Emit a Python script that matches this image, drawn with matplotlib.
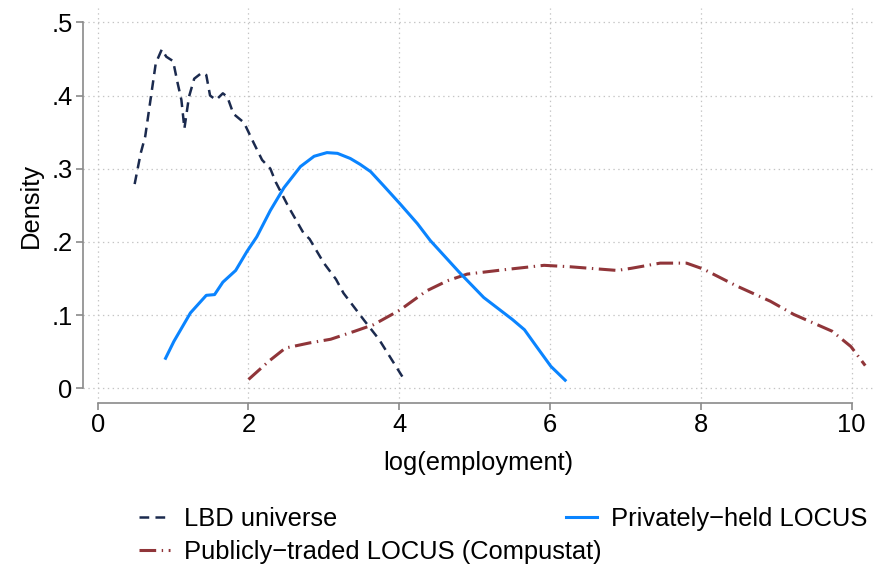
import matplotlib
matplotlib.use("Agg")
from matplotlib import pyplot as plt

plt.rcParams['font.family'] = ['Liberation Sans', 'DejaVu Sans']
plt.rcParams['font.size'] = 18.4
plt.rcParams['lines.scale_dashes'] = False

# LBD universe (kernel density)
lbd_x = [0.49, 0.57, 0.63, 0.70, 0.77, 0.85, 0.91, 1.00, 1.06, 1.11, 1.15, 1.21, 1.28,
         1.38, 1.44, 1.49, 1.57, 1.66, 1.72, 1.80, 1.94, 2.07, 2.18, 2.29, 2.36, 2.53,
         2.73, 2.81, 3.00, 3.16, 3.26, 3.54, 3.73, 4.04]
lbd_y = [0.279, 0.321, 0.344, 0.394, 0.444, 0.463, 0.453, 0.447, 0.417, 0.394, 0.355,
         0.398, 0.423, 0.431, 0.428, 0.400, 0.394, 0.403, 0.398, 0.375, 0.363, 0.335,
         0.312, 0.300, 0.282, 0.248, 0.212, 0.204, 0.171, 0.149, 0.130, 0.092, 0.067, 0.016]

# Privately-held LOCUS
priv_x = [0.90, 1.01, 1.23, 1.44, 1.55, 1.66, 1.83, 1.98, 2.11, 2.29, 2.47, 2.69, 2.87,
          3.04, 3.18, 3.35, 3.48, 3.62, 3.79, 4.01, 4.24, 4.41, 4.80, 5.12, 5.50, 5.66,
          5.82, 6.01, 6.20]
priv_y = [0.041, 0.064, 0.103, 0.127, 0.128, 0.145, 0.161, 0.187, 0.207, 0.243, 0.274,
          0.303, 0.317, 0.322, 0.321, 0.314, 0.306, 0.296, 0.277, 0.252, 0.225, 0.202,
          0.158, 0.124, 0.094, 0.080, 0.057, 0.030, 0.011]

# Publicly-traded LOCUS (Compustat)
pub_x = [2.00, 2.27, 2.49, 2.81, 3.09, 3.41, 3.66, 4.01, 4.36, 4.64, 4.90, 5.39, 5.92,
         6.27, 6.89, 7.08, 7.46, 7.81, 8.03, 8.47, 8.92, 9.23, 9.74, 9.99, 10.18]
pub_y = [0.012, 0.037, 0.055, 0.062, 0.067, 0.078, 0.087, 0.107, 0.133, 0.147, 0.156,
         0.162, 0.168, 0.166, 0.161, 0.164, 0.171, 0.171, 0.163, 0.140, 0.119, 0.101,
         0.078, 0.057, 0.031]

W, H = 879, 565
fig = plt.figure(figsize=(W / 100, H / 100), dpi=100)
ax = fig.add_axes([83 / W, 1 - 402.7 / H, 791.3 / W, 395 / H])

l1, = ax.plot(lbd_x, lbd_y, color='#1b2a4e', lw=1.8, dashes=(7, 4.5))
l2, = ax.plot(pub_x, pub_y, color='#903539', lw=2.2, dashes=(12, 4, 1, 4))
l3, = ax.plot(priv_x, priv_y, color='#0a84ff', lw=2.2)

ax.set_xlim(-0.195, 10.3)
ax.set_ylim(-0.0197, 0.52)
ax.set_xticks([0, 2, 4, 6, 8, 10])
ax.set_yticks([0, 0.1, 0.2, 0.3, 0.4, 0.5])
ax.set_yticklabels(['0', '.1', '.2', '.3', '.4', '.5'])
ax.grid(True, color='#c4c4c4', lw=0.9, dashes=(1, 2.5))
ax.set_axisbelow(True)

for s in ['top', 'right']:
    ax.spines[s].set_visible(False)
ax.spines['left'].set_bounds(0, 0.5)
ax.spines['bottom'].set_bounds(0, 10)
for s in ['left', 'bottom']:
    ax.spines[s].set_color('#8a8a8a')
    ax.spines[s].set_linewidth(1.2)
ax.tick_params(length=5, width=1.2, color='#8a8a8a', pad=2.5)

ax.set_xlabel('log(employment)', labelpad=10)
ax.set_ylabel('Density', labelpad=6)

leg1 = fig.legend([l1, l2], ['LBD universe', 'Publicly\u2212traded LOCUS (Compustat)'],
                  loc='upper left', bbox_to_anchor=(139 / W, 1 - 507 / H), frameon=False,
                  borderpad=0, borderaxespad=0, handlelength=1.2, handletextpad=0.55,
                  labelspacing=0.35)
fig.legend([l3], ['Privately\u2212held LOCUS'],
           loc='upper left', bbox_to_anchor=(566 / W, 1 - 507 / H), frameon=False,
           borderpad=0, borderaxespad=0, handlelength=1.2, handletextpad=0.55)

fig.savefig('out.png', dpi=100)
